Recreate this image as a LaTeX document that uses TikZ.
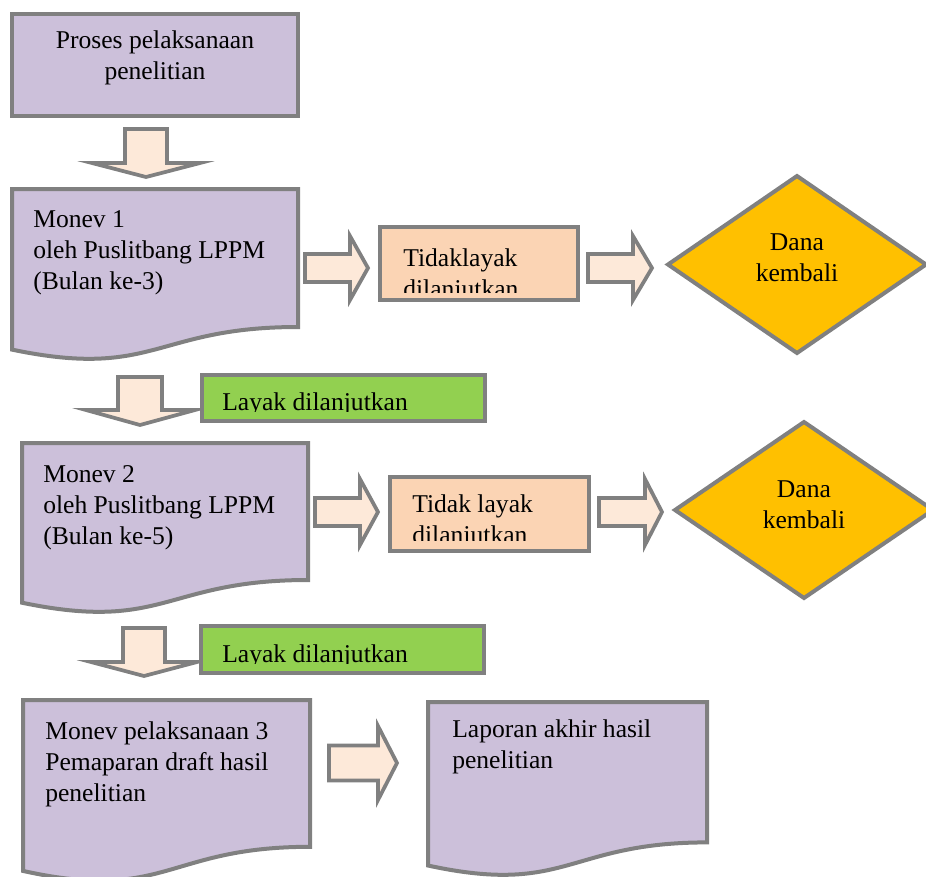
\documentclass[tikz,border=0pt]{standalone}
\usepackage{xcolor}
\usepackage{fontspec}
\setmainfont{Liberation Serif}
\usepackage{tikz}
\usetikzlibrary{shapes.geometric}

\definecolor{lavender}{HTML}{CCC0DA}
\definecolor{peach}{HTML}{FBD4B4}
\definecolor{arrowfill}{HTML}{FDE9D9}
\definecolor{okgreen}{HTML}{92D050}
\definecolor{gold}{HTML}{FFC000}
\definecolor{edgegray}{HTML}{808080}

\begin{document}
\begin{tikzpicture}[x=0.75pt, y=-0.75pt,
  box/.style={draw=edgegray, line width=3pt, inner sep=0pt, outer sep=0pt},
  fatarrow/.style={draw=edgegray, line width=2.8pt, fill=arrowfill, line join=miter},
  txt/.style={inner sep=0pt, anchor=base west, font=\fontsize{19.2}{23.6}\selectfont}]
  \useasboundingbox (0,0) rectangle (926,876);

  % Proses pelaksanaan
  \node[box, fill=lavender, minimum width=214.5pt, minimum height=76.5pt] (proses) at (155,65) {};
  \node[txt, anchor=base] (prosestxt) at (155,48) {\parbox[t]{200pt}{\centering Proses pelaksanaan\\penelitian}};
  \draw[fatarrow] (125,129) -- (167,129) -- (167,163) -- (200,163) -- (146,177) -- (92,163) -- (125,163) -- cycle;

  % Monev 1
  \draw[box, fill=lavender] (12,189) -- (298,189) -- (298,327) .. controls (155,327) and (155,379.5) .. (12,349.6) -- cycle;
  \node[txt] (monev1) at (33,227) {\parbox[t]{200pt}{\raggedright Monev 1\\oleh Puslitbang LPPM\\(Bulan ke-3)}};
  \draw[fatarrow] (305,254) -- (350,254) -- (350,236) -- (368,268) -- (350,300) -- (350,282) -- (305,282) -- cycle;
  \node[box, fill=peach, minimum width=148.5pt, minimum height=54.75pt] (tidak1) at (479,263.5) {};
  \begin{scope}
    \clip (380,227) rectangle (578,292);
    \node[txt] (tidak1txt) at (403,266) {\parbox[t]{150pt}{\raggedright Tidaklayak\\dilanjutkan}};
  \end{scope}
  \draw[fatarrow] (588,254) -- (633,254) -- (633,236) -- (652,268) -- (633,300) -- (633,282) -- (588,282) -- cycle;
  \node[box, diamond, fill=gold, minimum width=193.5pt, minimum height=132.75pt] (dana1) at (797,264.5) {};
  \node[txt, anchor=base] (dana1txt) at (797,250) {\parbox[t]{120pt}{\centering Dana\\kembali}};

  % Layak 1
  \draw[fatarrow] (118,377) -- (162,377) -- (162,410) -- (195,410) -- (140,425) -- (86,410) -- (118,410) -- cycle;
  \node[box, fill=okgreen, minimum width=212.25pt, minimum height=34.5pt] (layak1) at (343.5,398) {};
  \begin{scope}
    \clip (202,375) rectangle (485,411.5);
    \node[txt] (layak1txt) at (222,410) {Layak dilanjutkan};
  \end{scope}

  % Monev 2
  \draw[box, fill=lavender] (22,443) -- (308,443) -- (308,580) .. controls (165,580) and (165,632.4) .. (22,602.7) -- cycle;
  \node[txt] (monev2) at (43,482) {\parbox[t]{200pt}{\raggedright Monev 2\\oleh Puslitbang LPPM\\(Bulan ke-5)}};
  \draw[fatarrow] (315,498) -- (360,498) -- (360,479) -- (378,512) -- (360,545) -- (360,526) -- (315,526) -- cycle;
  \node[box, fill=peach, minimum width=149.25pt, minimum height=55.5pt] (tidak2) at (489.5,514) {};
  \begin{scope}
    \clip (390,477) rectangle (589,540);
    \node[txt] (tidak2txt) at (412,512) {\parbox[t]{150pt}{\raggedright Tidak layak\\dilanjutkan}};
  \end{scope}
  \draw[fatarrow] (599,498) -- (645,498) -- (645,479) -- (662,512) -- (645,545) -- (645,526) -- (599,526) -- cycle;
  \node[box, diamond, fill=gold, minimum width=193.5pt, minimum height=132pt] (dana2) at (804,510) {};
  \node[txt, anchor=base] (dana2txt) at (804,497) {\parbox[t]{120pt}{\centering Dana\\kembali}};

  % Layak 2
  \draw[fatarrow] (123,628) -- (165,628) -- (165,662) -- (197,662) -- (144,676) -- (91,662) -- (123,662) -- cycle;
  \node[box, fill=okgreen, minimum width=212.25pt, minimum height=35.25pt] (layak2) at (342.5,649.5) {};
  \begin{scope}
    \clip (201,626) rectangle (484,663.5);
    \node[txt] (layak2txt) at (222,662) {Layak dilanjutkan};
  \end{scope}

  % Monev 3 and laporan
  \draw[box, fill=lavender] (23,700) -- (310,700) -- (310,846.8) .. controls (166.5,846.8) and (166.5,902.7) .. (23,870.9) -- cycle;
  \node[txt] (monev3) at (45,739) {\parbox[t]{220pt}{\raggedright Monev pelaksanaan 3\\Pemaparan draft hasil\\penelitian}};
  \draw[fatarrow] (329,745.5) -- (378,745.5) -- (378,726) -- (397,763) -- (378,800) -- (378,780.5) -- (329,780.5) -- cycle;
  \draw[box, fill=lavender] (428,702) -- (707,702) -- (707,842.4) .. controls (567.5,842.4) and (567.5,895.8) .. (428,865.5) -- cycle;
  \node[txt] (laporan) at (452,737) {\parbox[t]{220pt}{\raggedright Laporan akhir hasil\\penelitian}};
\end{tikzpicture}
\end{document}
